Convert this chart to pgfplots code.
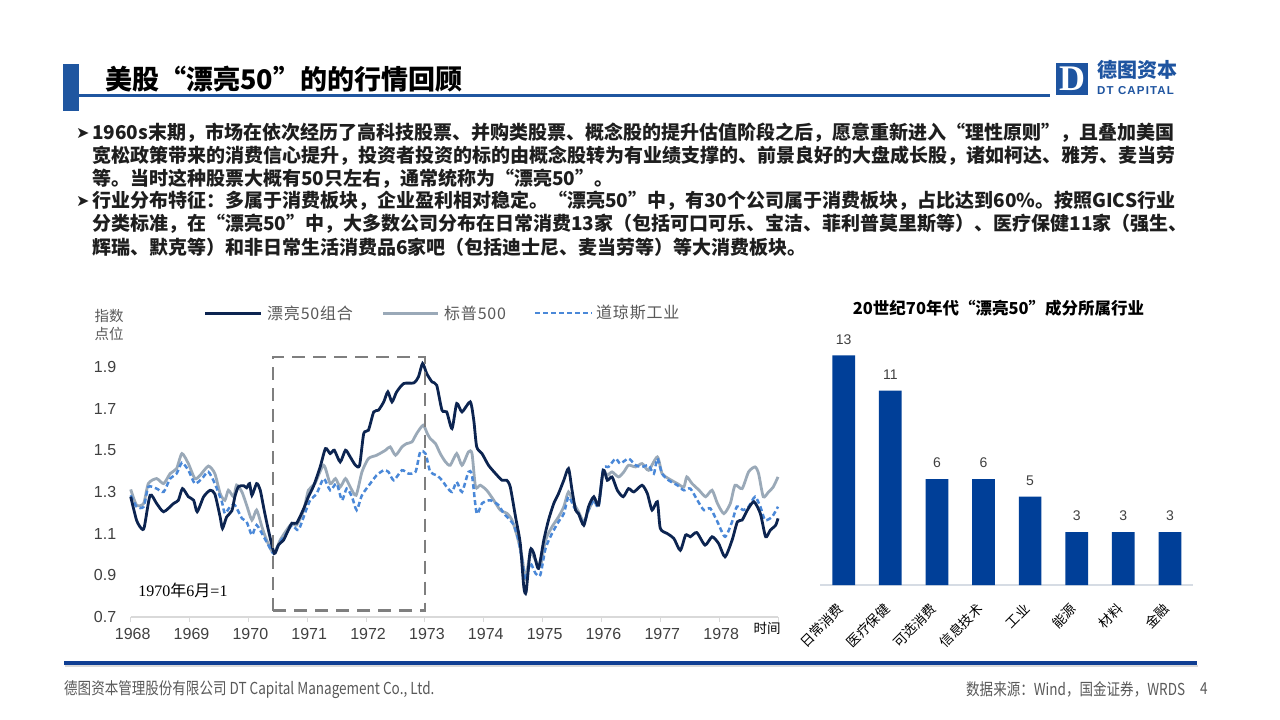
\documentclass[border=0pt]{standalone}
\usepackage{fontspec}
\usepackage{pgfplots}
\pgfplotsset{compat=1.18}
\setmainfont{Noto Sans CJK SC}
\newfontfamily\lib{Liberation Sans}
\newfontfamily\libs{Liberation Serif}
\newfontfamily\dv{DejaVu Sans}
\newfontfamily\cond[FakeStretch=0.82]{Noto Sans CJK SC}
\newcommand\fs[1]{\fontsize{#1}{#1}\selectfont}
\definecolor{hdrblue}{RGB}{31,86,160}
\definecolor{logoblue}{RGB}{30,84,160}
\definecolor{navy}{RGB}{12,36,80}
\definecolor{spgrey}{RGB}{154,169,184}
\definecolor{djblue}{RGB}{74,136,216}
\definecolor{barblue}{RGB}{0,63,152}
\definecolor{boxgray}{RGB}{127,127,127}
\definecolor{axgray}{RGB}{217,217,217}
\definecolor{baraxis}{RGB}{214,220,228}
\definecolor{txt}{RGB}{64,64,64}
\definecolor{body}{RGB}{30,30,30}
\definecolor{lgd}{RGB}{89,89,89}
\definecolor{footblue}{RGB}{15,62,147}
\definecolor{footgray}{RGB}{89,89,89}
\begin{document}
\begin{tikzpicture}[x=1pt,y=1pt]
\useasboundingbox (0pt,0pt) rectangle (1280pt,-720pt);
\fill[white] (0pt,0pt) rectangle (1280pt,-720pt);
% ---------- header ----------
\fill[hdrblue] (63,-64) rectangle (79,-111);
\fill[hdrblue] (79,-93.5) rectangle (1050,-96.5);
\node[anchor=west,inner sep=0] at (105,-79) {\fs{27}\bfseries 美股“漂亮50”的的行情回顾};
% logo
\fill[logoblue] (1056,-63) rectangle (1088,-95);
\node[white,inner sep=0] at (1072,-79) {\libs\bfseries\fs{36}D};
\node[anchor=west,inner sep=0,text=logoblue] at (1097,-70) {\fs{20}\bfseries 德图资本};
\node[anchor=west,inner sep=0,text=logoblue] at (1097,-90.5) {\lib\bfseries\fs{11.5}\addfontfeature{LetterSpace=10}DT CAPITAL};
% ---------- bullet text ----------
\begin{scope}[every node/.style={anchor=west,inner sep=0,text=body}]
\node at (76,-133) {\dv\fs{16}➤};
\node at (92,-133) {\fs{19}\bfseries 1960s末期，市场在依次经历了高科技股票、并购类股票、概念股的提升估值阶段之后，愿意重新进入“理性原则”，且叠加美国};
\node at (92,-156) {\fs{19}\bfseries 宽松政策带来的消费信心提升，投资者投资的标的由概念股转为有业绩支撑的、前景良好的大盘成长股，诸如柯达、雅芳、麦当劳};
\node at (92,-179) {\fs{19}\bfseries 等。当时这种股票大概有50只左右，通常统称为“漂亮50”。};
\node at (76,-201) {\dv\fs{16}➤};
\node at (92,-201) {\fs{19}\bfseries 行业分布特征：多属于消费板块，企业盈利相对稳定。“漂亮50”中，有30个公司属于消费板块，占比达到60\%。按照GICS行业};
\node at (92,-224) {\fs{19}\bfseries 分类标准，在“漂亮50”中，大多数公司分布在日常消费13家（包括可口可乐、宝洁、菲利普莫里斯等）、医疗保健11家（强生、};
\node at (92,-247) {\fs{19}\bfseries 辉瑞、默克等）和非日常生活消费品6家吧（包括迪士尼、麦当劳等）等大消费板块。};
\end{scope}
% ---------- line chart labels & legend ----------
\node[inner sep=0,text=lgd] at (109,-316) {\fs{14.5}指数};
\node[inner sep=0,text=lgd] at (109,-334) {\fs{14.5}点位};
\draw[navy,line width=3pt] (205,-313) -- (261,-313);
\node[anchor=west,inner sep=0,text=lgd] at (267,-313) {\fs{16}\addfontfeature{LetterSpace=5}漂亮50组合};
\draw[spgrey,line width=3pt] (383,-313) -- (438,-313);
\node[anchor=west,inner sep=0,text=lgd] at (444,-313) {\fs{16}\addfontfeature{LetterSpace=5}标普500};
\draw[djblue,line width=2.5pt,dash pattern=on 5pt off 3pt] (535,-313) -- (592,-313);
\node[anchor=west,inner sep=0,text=lgd] at (596,-313) {\fs{16}\addfontfeature{LetterSpace=5}道琼斯工业};
\node[inner sep=0,text=black] at (183,-590) {\fs{16}{\libs 1970}年{\libs 6}月{\libs =1}};
\node[inner sep=0,text=black] at (767,-628) {\fs{13.5}时间};
% ---------- line chart ----------
\begin{axis}[
  at={(130.7pt,-617pt)}, anchor=south west, scale only axis,
  width=647.3pt, height=271pt,
  xmin=1968, xmax=1979, ymin=0.7, ymax=2.0,
  axis x line*=bottom, axis y line*=left,
  x axis line style={-,draw=axgray,line width=1.3pt},
  y axis line style={draw=none},
  xtick={1968,1969,1970,1971,1972,1973,1974,1975,1976,1977,1978,1979},
  xticklabels={1968,1969,1970,1971,1972,1973,1974,1975,1976,1977,1978,{}},
  ytick={0.7,0.9,1.1,1.3,1.5,1.7,1.9},
  yticklabels={0.7,0.9,1.1,1.3,1.5,1.7,1.9},
  tick align=outside, major tick length=5pt,
  xtick style={draw=axgray,line width=1pt},
  ytick style={draw=none},
  xticklabel style={font=\lib\fs{16},text=txt,yshift=-3pt,xshift=2pt},
  yticklabel style={font=\lib\fs{16},text=txt,xshift=-6pt},
  clip=false,
]
\addplot[spgrey,line width=2.8pt,smooth,tension=0.4] coordinates {
(1968.00,1.312) (1968.10,1.237) (1968.22,1.245) (1968.30,1.34) (1968.44,1.364) (1968.56,1.34)
(1968.67,1.388) (1968.78,1.412) (1968.87,1.484) (1968.98,1.436) (1969.09,1.364) (1969.18,1.38)
(1969.32,1.424) (1969.43,1.388) (1969.52,1.292) (1969.60,1.26) (1969.66,1.308) (1969.75,1.277)
(1969.80,1.333) (1969.89,1.30) (1969.97,1.237) (1970.06,1.165) (1970.14,1.213) (1970.23,1.133)
(1970.31,1.069) (1970.43,1.005) (1970.54,1.069) (1970.65,1.117) (1970.74,1.149) (1970.82,1.141)
(1970.94,1.213) (1971.02,1.308) (1971.13,1.34) (1971.28,1.428) (1971.39,1.34) (1971.48,1.364)
(1971.56,1.324) (1971.65,1.364) (1971.73,1.324) (1971.83,1.284) (1971.93,1.396) (1972.04,1.46)
(1972.18,1.476) (1972.33,1.50) (1972.41,1.516) (1972.50,1.476) (1972.61,1.516) (1972.69,1.532)
(1972.78,1.54) (1972.86,1.58) (1972.97,1.62) (1973.04,1.58) (1973.09,1.556) (1973.18,1.532)
(1973.26,1.484) (1973.35,1.444) (1973.43,1.428) (1973.54,1.484) (1973.63,1.428) (1973.74,1.492)
(1973.80,1.484) (1973.86,1.324) (1973.94,1.332) (1974.05,1.308) (1974.17,1.26) (1974.28,1.213)
(1974.40,1.196) (1974.48,1.165) (1974.57,1.085) (1974.65,0.989) (1974.71,0.885) (1974.79,1.005)
(1974.88,0.973) (1974.96,0.941) (1975.05,1.069) (1975.16,1.133) (1975.27,1.18) (1975.36,1.229)
(1975.44,1.30) (1975.53,1.245) (1975.61,1.205) (1975.70,1.157) (1975.78,1.213) (1975.87,1.26)
(1975.95,1.237) (1976.03,1.396) (1976.10,1.38) (1976.18,1.396) (1976.29,1.372) (1976.38,1.396)
(1976.46,1.428) (1976.58,1.42) (1976.69,1.436) (1976.80,1.404) (1976.95,1.468) (1977.03,1.388)
(1977.14,1.364) (1977.29,1.34) (1977.40,1.324) (1977.45,1.372) (1977.54,1.34) (1977.66,1.308)
(1977.77,1.277) (1977.88,1.308) (1977.97,1.245) (1978.08,1.196) (1978.19,1.245) (1978.27,1.332)
(1978.39,1.316) (1978.50,1.396) (1978.61,1.42) (1978.67,1.388) (1978.75,1.277) (1978.84,1.30)
(1978.92,1.324) (1979.00,1.372)};
\addplot[djblue,line width=2.5pt,dash pattern=on 5pt off 3pt,smooth,tension=0.4] coordinates {
(1968.00,1.284) (1968.10,1.229) (1968.22,1.229) (1968.30,1.324) (1968.44,1.316) (1968.56,1.30)
(1968.67,1.364) (1968.78,1.388) (1968.87,1.44) (1968.98,1.404) (1969.09,1.34) (1969.21,1.364)
(1969.32,1.396) (1969.43,1.34) (1969.55,1.252) (1969.60,1.197) (1969.69,1.229) (1969.77,1.237)
(1969.89,1.173) (1969.97,1.157) (1970.06,1.093) (1970.14,1.141) (1970.26,1.085) (1970.34,1.045)
(1970.43,1.005) (1970.54,1.061) (1970.65,1.101) (1970.74,1.141) (1970.85,1.117) (1970.97,1.205)
(1971.05,1.26) (1971.16,1.292) (1971.28,1.364) (1971.39,1.308) (1971.50,1.34) (1971.59,1.26)
(1971.67,1.316) (1971.76,1.277) (1971.84,1.213) (1971.93,1.284) (1972.07,1.34) (1972.18,1.38)
(1972.30,1.404) (1972.38,1.396) (1972.47,1.356) (1972.61,1.404) (1972.72,1.388) (1972.84,1.396)
(1972.92,1.492) (1973.01,1.484) (1973.09,1.396) (1973.20,1.38) (1973.29,1.356) (1973.37,1.324)
(1973.46,1.30) (1973.54,1.348) (1973.63,1.30) (1973.74,1.396) (1973.80,1.38) (1973.88,1.196)
(1973.97,1.245) (1974.11,1.26) (1974.25,1.237) (1974.34,1.196) (1974.42,1.173) (1974.51,1.141)
(1974.59,1.069) (1974.65,0.973) (1974.71,0.877) (1974.79,0.957) (1974.88,0.909) (1974.96,0.901)
(1975.05,1.029) (1975.16,1.101) (1975.27,1.157) (1975.36,1.196) (1975.44,1.277) (1975.53,1.229)
(1975.61,1.196) (1975.70,1.149) (1975.78,1.213) (1975.87,1.26) (1975.95,1.229) (1976.03,1.412)
(1976.12,1.42) (1976.24,1.46) (1976.32,1.436) (1976.46,1.46) (1976.58,1.428) (1976.69,1.42)
(1976.80,1.428) (1976.89,1.388) (1976.95,1.46) (1977.03,1.388) (1977.14,1.356) (1977.29,1.332)
(1977.40,1.308) (1977.51,1.316) (1977.63,1.26) (1977.74,1.213) (1977.85,1.221) (1977.97,1.157)
(1978.10,1.085) (1978.22,1.157) (1978.30,1.229) (1978.41,1.213) (1978.50,1.229) (1978.61,1.277)
(1978.70,1.229) (1978.78,1.165) (1978.90,1.181) (1979.00,1.229)};
\addplot[navy,line width=2.8pt,smooth,tension=0.4] coordinates {
(1968.00,1.277) (1968.10,1.164) (1968.18,1.125) (1968.23,1.130) (1968.33,1.284) (1968.44,1.245)
(1968.56,1.205) (1968.73,1.245) (1968.81,1.26) (1968.88,1.316) (1968.98,1.277) (1969.07,1.26)
(1969.13,1.205) (1969.24,1.277) (1969.35,1.308) (1969.43,1.29) (1969.52,1.18) (1969.56,1.125)
(1969.63,1.18) (1969.72,1.21) (1969.77,1.277) (1969.83,1.325) (1969.92,1.33) (1969.97,1.32)
(1970.02,1.34) (1970.06,1.284) (1970.14,1.34) (1970.20,1.31) (1970.27,1.21) (1970.34,1.117)
(1970.44,1.005) (1970.51,1.045) (1970.60,1.07) (1970.65,1.10) (1970.74,1.15) (1970.82,1.15)
(1970.94,1.22) (1971.02,1.277) (1971.11,1.33) (1971.22,1.42) (1971.31,1.508) (1971.39,1.484)
(1971.46,1.50) (1971.56,1.444) (1971.65,1.50) (1971.73,1.468) (1971.82,1.428) (1971.89,1.428)
(1971.96,1.58) (1972.04,1.596) (1972.13,1.684) (1972.21,1.692) (1972.30,1.732) (1972.37,1.78)
(1972.44,1.732) (1972.52,1.78) (1972.64,1.82) (1972.81,1.823) (1972.89,1.852) (1972.96,1.916)
(1973.03,1.868) (1973.12,1.828) (1973.20,1.812) (1973.29,1.692) (1973.37,1.684) (1973.46,1.604)
(1973.54,1.724) (1973.63,1.684) (1973.77,1.732) (1973.83,1.644) (1973.88,1.516) (1973.97,1.484)
(1974.08,1.428) (1974.20,1.388) (1974.31,1.356) (1974.39,1.356) (1974.45,1.324) (1974.54,1.18)
(1974.62,1.053) (1974.68,0.845) (1974.72,0.821) (1974.79,1.02) (1974.85,1.005) (1974.93,0.933)
(1975.02,1.069) (1975.10,1.165) (1975.19,1.245) (1975.27,1.292) (1975.36,1.356) (1975.44,1.412)
(1975.50,1.308) (1975.56,1.213) (1975.61,1.196) (1975.70,1.14) (1975.78,1.229) (1975.87,1.277)
(1975.95,1.237) (1976.03,1.404) (1976.10,1.356) (1976.18,1.372) (1976.27,1.308) (1976.37,1.277)
(1976.46,1.316) (1976.55,1.30) (1976.69,1.332) (1976.78,1.292) (1976.86,1.213) (1976.95,1.253)
(1977.00,1.125) (1977.12,1.10) (1977.23,1.077) (1977.34,1.02) (1977.43,1.093) (1977.51,1.085)
(1977.62,1.105) (1977.76,1.045) (1977.88,1.085) (1977.99,1.053) (1978.10,0.989) (1978.22,1.069)
(1978.31,1.157) (1978.39,1.165) (1978.48,1.213) (1978.59,1.253) (1978.70,1.196) (1978.79,1.085)
(1978.87,1.117) (1978.96,1.14) (1979.00,1.173)};
\draw[boxgray,line width=2.6pt,dash pattern=on 13pt off 8pt] (axis cs:1970.42,0.73) rectangle (axis cs:1973.0,1.947);
\end{axis}
% ---------- bar chart ----------
\node[inner sep=0,text=black] at (998.5,-308) {\fs{16.5}\bfseries 20世纪70年代“漂亮50”成分所属行业};
\begin{axis}[
  at={(820.4pt,-585pt)}, anchor=south west, scale only axis,
  width=372.8pt, height=247.3pt,
  xmin=-0.5, xmax=7.5, ymin=0, ymax=14,
  axis x line*=bottom, axis y line=none,
  x axis line style={-,draw=baraxis,line width=1.2pt},
  xtick={0,1,2,3,4,5,6,7},
  xticklabels={日常消费,医疗保健,可选消费,信息技术,工业,能源,材料,金融},
  xtick style={draw=none},
  xticklabel style={font=\fs{13.5},text=black,inner sep=0pt,xshift=-3pt,yshift=-17pt,rotate=45,anchor=east},
  ybar, bar width=22.7pt,
  /pgf/number format/assume math mode=true,
  nodes near coords,
  nodes near coords style={font=\lib\fs{14},text=txt,inner sep=0pt,anchor=south,yshift=11pt},
  clip=false,
]
\addplot[fill=barblue,draw=none] coordinates {(0,13) (1,11) (2,6) (3,6) (4,5) (5,3) (6,3) (7,3)};
\end{axis}
% ---------- footer ----------
\fill[footblue] (64,-661) rectangle (1197,-665);
\fill[black!15] (65,-665) rectangle (1198,-667);
\node[anchor=west,inner sep=0,text=footgray] at (64,-690) {\cond\fs{16.5}德图资本管理股份有限公司 DT Capital Management Co., Ltd.};
\node[anchor=west,inner sep=0,text=footgray] at (966,-689) {\cond\fs{16.5}数据来源：Wind，国金证券，WRDS};
\node[anchor=west,inner sep=0,text=footgray] at (1200,-689) {\cond\fs{16.5}4};
\end{tikzpicture}
\end{document}
